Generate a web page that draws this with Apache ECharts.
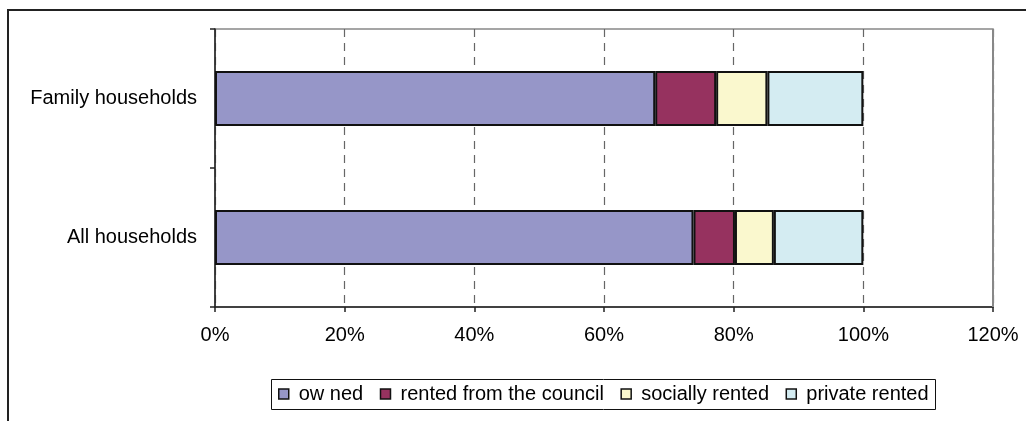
<!DOCTYPE html>
<html>
<head>
<meta charset="utf-8">
<style>
  html, body { margin: 0; padding: 0; background: #fff; }
  #chart { width: 1026px; height: 421px; }
</style>
<script src="https://cdn.jsdelivr.net/npm/echarts@6/dist/echarts.min.js"></script>
</head>
<body>
<div id="chart"></div>
<script>
  // categories bottom -> top
  var categories = ['All households', 'Family households']
  var owned = [73.8, 67.9]
  var council = [6.4, 9.4]
  var social = [6.0, 7.9]
  var privateRented = [13.8, 14.8]
  var seriesNames = ['ow ned', 'rented from the council', 'socially rented', 'private rented']
  var colors = ['#9696c8', '#96325f', '#faf8ce', '#d4ecf2']

  var font = 'Liberation Sans, Arial, sans-serif'
  var chart = echarts.init(document.getElementById('chart'))

  function bar (name, data, color) {
    return {
      name: name,
      type: 'bar',
      stack: 'total',
      barWidth: 55,
      data: data,
      itemStyle: {color: color, borderColor: '#111', borderWidth: 2},
      emphasis: {disabled: true}
    }
  }

  chart.setOption({
    animation: false,
    textStyle: {fontFamily: font},
    graphic: [
      { // outer frame, runs off the right and bottom edges
        type: 'rect',
        shape: {x: 8, y: 10, width: 2000, height: 1000},
        style: {fill: 'none', stroke: '#222', lineWidth: 2},
        z: 0
      },
      { // legend box
        type: 'rect',
        shape: {x: 271.5, y: 379.5, width: 664, height: 30},
        style: {fill: 'none', stroke: '#111', lineWidth: 1},
        z: 0
      },
      { // solid right edge of plot area (covers the dashed line at 120%)
        type: 'line',
        shape: {x1: 993, y1: 29, x2: 993, y2: 307},
        style: {stroke: '#888', lineWidth: 2},
        z: 10
      }
    ],
    legend: {
      left: 278,
      top: 384,
      padding: 0,
      itemGap: 16.5,
      itemWidth: 10,
      itemHeight: 10,
      icon: 'rect',
      itemStyle: {borderColor: '#111', borderWidth: 1.5},
      textStyle: {fontSize: 20, color: '#000', fontFamily: font, padding: [0, 0, 0, 5]},
      data: seriesNames
    },
    grid: {
      left: 215,
      top: 29,
      right: 33,
      bottom: 114,
      show: true,
      borderColor: '#888',
      borderWidth: 1.5
    },
    xAxis: {
      type: 'value',
      min: 0,
      max: 120,
      interval: 20,
      axisLine: {show: true, lineStyle: {color: '#222', width: 1.5}},
      axisTick: {show: true, length: 5, lineStyle: {color: '#222', width: 1.5}},
      axisLabel: {formatter: '{value}%', fontSize: 20, color: '#000', margin: 18},
      splitLine: {show: true, lineStyle: {color: '#666', type: [8, 6], width: 1.2}}
    },
    yAxis: {
      type: 'category',
      data: categories,
      axisLine: {show: true, lineStyle: {color: '#222', width: 1.5}},
      axisTick: {show: true, length: 5, lineStyle: {color: '#222', width: 1.5}},
      axisLabel: {fontSize: 20, color: '#000', margin: 18}
    },
    series: [
      bar(seriesNames[0], owned, colors[0]),
      bar(seriesNames[1], council, colors[1]),
      bar(seriesNames[2], social, colors[2]),
      bar(seriesNames[3], privateRented, colors[3])
    ]
  })
</script>
</body>
</html>
